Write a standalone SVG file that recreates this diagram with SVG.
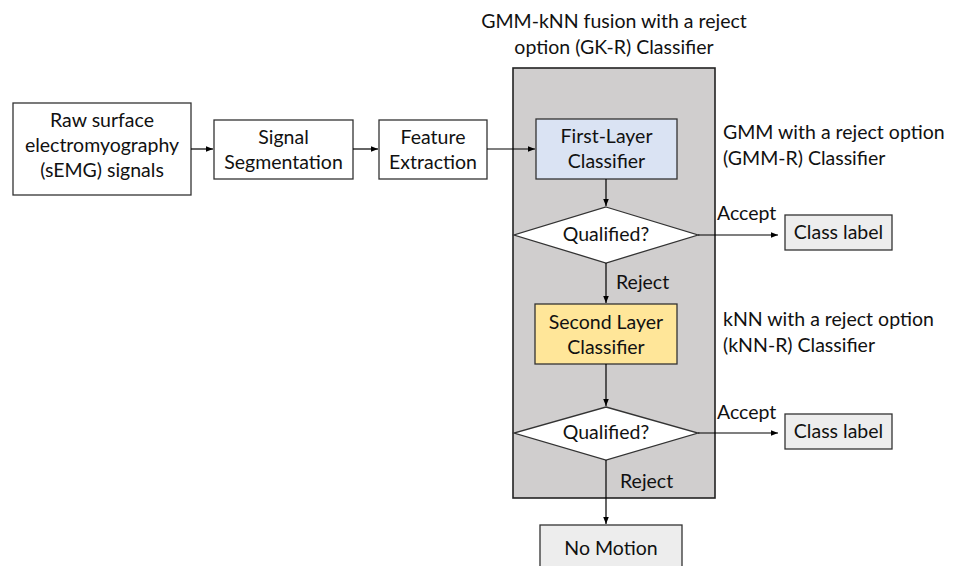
<svg xmlns="http://www.w3.org/2000/svg" width="953" height="566" viewBox="0 0 953 566">
  <defs>
    <marker id="arrow" viewBox="0 0 10 10" refX="10" refY="5" markerWidth="7" markerHeight="7" markerUnits="userSpaceOnUse" orient="auto">
      <path d="M0,1 L10,5 L0,9 Z" fill="#000"/>
    </marker>
  </defs>
  <style>
    text { font-family: Lato, "Open Sans", sans-serif; font-size: 19.5px; fill: #111; }
    .c { text-anchor: middle; }
    .box { stroke: #333; stroke-width: 1.3; }
    .plain { fill: #fff; }
    .out { fill: #ededed; }
    .conn { stroke: #000; stroke-width: 1.2; fill: none; marker-end: url(#arrow); }
  </style>
  <rect width="953" height="566" fill="#fff"/>

  <!-- fusion classifier container -->
  <g id="fusion">
    <rect x="513" y="68" width="202" height="430" fill="#d0cece" stroke="#222" stroke-width="1.6"/>
    <text class="c" x="614" y="28">GMM-kNN fusion with a reject</text>
    <text class="c" x="614" y="54">option (GK-R) Classifier</text>
  </g>

  <g id="raw">
    <rect class="box plain" x="13" y="103" width="178" height="92"/>
    <text class="c" x="102" y="127">Raw surface</text>
    <text class="c" x="102" y="152">electromyography</text>
    <text class="c" x="102" y="177">(sEMG) signals</text>
  </g>
  <g id="segmentation">
    <rect class="box plain" x="214" y="120" width="139" height="59"/>
    <text class="c" x="283.5" y="144">Signal</text>
    <text class="c" x="283.5" y="169">Segmentation</text>
  </g>
  <g id="features">
    <rect class="box plain" x="379" y="120" width="108" height="59"/>
    <text class="c" x="433" y="144">Feature</text>
    <text class="c" x="433" y="169">Extraction</text>
  </g>
  <g id="first-layer">
    <rect class="box" x="536" y="119" width="141" height="60" fill="#dae3f3"/>
    <text class="c" x="606.5" y="143">First-Layer</text>
    <text class="c" x="606.5" y="168">Classifier</text>
  </g>
  <g id="decision1">
    <polygon class="box plain" points="606,207 698,235 606,263 514,235"/>
    <text class="c" x="606" y="241">Qualified?</text>
  </g>
  <g id="second-layer">
    <rect class="box" x="535" y="304" width="142" height="60" fill="#ffe699"/>
    <text class="c" x="606" y="329">Second Layer</text>
    <text class="c" x="606" y="354">Classifier</text>
  </g>
  <g id="decision2">
    <polygon class="box plain" points="606,407 698,433 606,460 514,433"/>
    <text class="c" x="606" y="439">Qualified?</text>
  </g>
  <g id="class-label1">
    <rect class="box out" x="785" y="215" width="107" height="35"/>
    <text class="c" x="838.5" y="239">Class label</text>
  </g>
  <g id="class-label2">
    <rect class="box out" x="785" y="414" width="107" height="35"/>
    <text class="c" x="838.5" y="438">Class label</text>
  </g>
  <g id="no-motion">
    <rect class="box out" x="540" y="525" width="142" height="44"/>
    <text class="c" x="611" y="555">No Motion</text>
  </g>
  <g id="gmm-note">
    <text x="723" y="139">GMM with a reject option</text>
    <text x="723" y="165">(GMM-R) Classifier</text>
  </g>
  <g id="knn-note">
    <text x="723" y="326">kNN with a reject option</text>
    <text x="723" y="352">(kNN-R) Classifier</text>
  </g>

  <g id="connectors">
    <line class="conn" x1="191" y1="149" x2="213" y2="149"/>
    <line class="conn" x1="353" y1="149" x2="378" y2="149"/>
    <line class="conn" x1="487" y1="149" x2="535" y2="149"/>
    <line class="conn" x1="606" y1="179" x2="606" y2="206"/>
    <line class="conn" x1="606" y1="263" x2="606" y2="303"/>
    <line class="conn" x1="606" y1="364" x2="606" y2="406"/>
    <line class="conn" x1="606" y1="460" x2="606" y2="524"/>
    <line class="conn" x1="698" y1="235" x2="778" y2="235"/>
    <line class="conn" x1="698" y1="433" x2="778" y2="433"/>
    <text x="616" y="289">Reject</text>
    <text x="620" y="488">Reject</text>
    <text x="717" y="220">Accept</text>
    <text x="717" y="419">Accept</text>
  </g>
</svg>
